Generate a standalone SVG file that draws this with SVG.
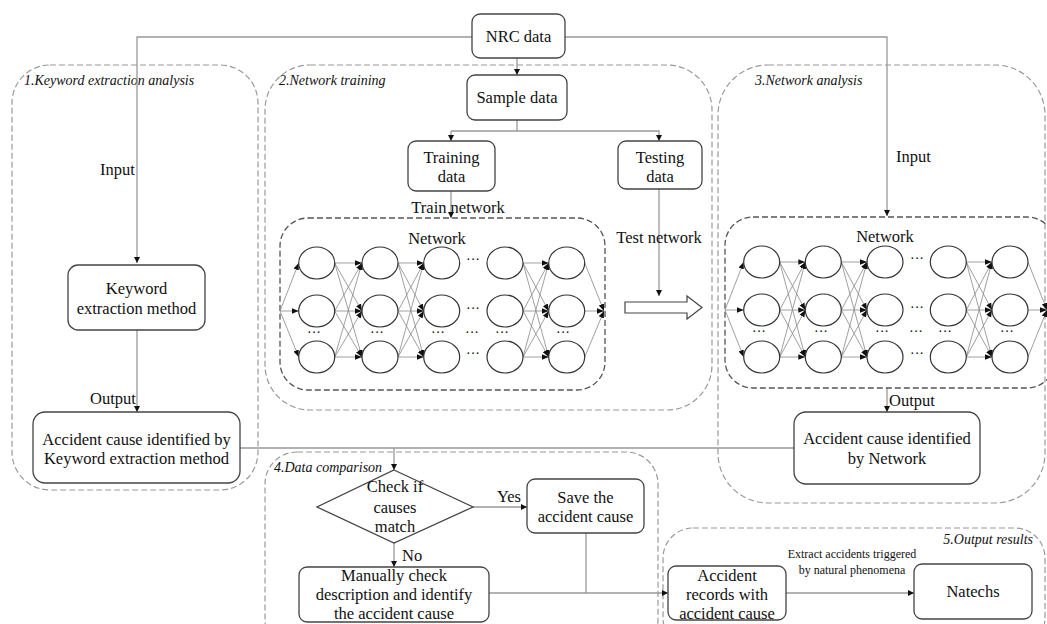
<svg xmlns="http://www.w3.org/2000/svg" width="1047" height="624" viewBox="0 0 1047 624" font-family="'Liberation Serif', 'DejaVu Serif', serif">
<style>
.panel{fill:none;stroke:#9a9a9a;stroke-width:1.2;stroke-dasharray:6 3}
.netbox{fill:none;stroke:#555;stroke-width:1.3;stroke-dasharray:6 3}
.box{fill:#fff;stroke:#444;stroke-width:1.3}
.conn{fill:none;stroke:#999;stroke-width:1.3}
.edge{fill:none;stroke:#888;stroke-width:0.8}
.neuron{fill:#fff;stroke:#333;stroke-width:1.2}
text{font-family:'Liberation Serif','DejaVu Serif',serif;fill:#111}
.t{font-size:16.5px;text-anchor:middle}
.lab{font-size:16.5px}
.plab{font-size:14px;font-style:italic}
.dots{font-size:14px;text-anchor:middle}
.small{font-size:12px;text-anchor:middle}
</style>
<defs>
<marker id="ar" viewBox="0 0 10 10" refX="10" refY="5" markerWidth="6" markerHeight="6" markerUnits="userSpaceOnUse" orient="auto"><path d="M0,0 L10,5 L0,10 z" fill="#111"/></marker>
<marker id="an" viewBox="0 0 10 10" refX="10" refY="5" markerWidth="7" markerHeight="7" markerUnits="userSpaceOnUse" orient="auto"><path d="M0,1 L10,5 L0,9 z" fill="#111"/></marker>
</defs>

<g id="panels">
<rect class="panel" x="12" y="65" width="246" height="425" rx="38"/>
<rect class="panel" x="265" y="65" width="447" height="345" rx="45"/>
<rect class="panel" x="718" y="65" width="327" height="438" rx="50"/>
<rect class="panel" x="265" y="452" width="393" height="200" rx="32"/>
<rect class="panel" x="663" y="528" width="382" height="120" rx="30"/>
<text class="plab" x="24" y="85">1.Keyword extraction analysis</text>
<text class="plab" x="279" y="85">2.Network training</text>
<text class="plab" x="755" y="85">3.Network analysis</text>
<text class="plab" x="274" y="472">4.Data comparison</text>
<text class="plab" x="1033" y="544" text-anchor="end">5.Output results</text>
</g>

<g id="connectors">
<polyline class="conn" points="472,37 137,37 137,263" marker-end="url(#ar)"/>
<polyline class="conn" points="565,37 887,37 887,216" marker-end="url(#ar)"/>
<line class="conn" x1="517" y1="58" x2="517" y2="75" marker-end="url(#ar)"/>
<line class="conn" x1="517" y1="120" x2="517" y2="131"/>
<polyline class="conn" points="451,131 451,141" marker-end="url(#ar)"/>
<polyline class="conn" points="451,131 659,131 659,141" marker-end="url(#ar)"/>
<line class="conn" x1="451" y1="191" x2="451" y2="218" marker-end="url(#ar)"/>
<line class="conn" x1="659" y1="189" x2="659" y2="296" marker-end="url(#ar)"/>
<line class="conn" x1="137" y1="330" x2="137" y2="412" marker-end="url(#ar)"/>
<line class="conn" x1="887" y1="388" x2="887" y2="412" marker-end="url(#ar)"/>
<line class="conn" x1="240" y1="448" x2="794" y2="448"/>
<line class="conn" x1="394" y1="448" x2="394" y2="470" marker-end="url(#ar)"/>
<line class="conn" x1="473" y1="507" x2="527" y2="507" marker-end="url(#ar)"/>
<line class="conn" x1="394" y1="543" x2="394" y2="567" marker-end="url(#ar)"/>
<polyline class="conn" points="586,533 586,593"/>
<line class="conn" x1="489" y1="593" x2="668" y2="593" marker-end="url(#ar)"/>
<line class="conn" x1="786" y1="593" x2="914" y2="593" marker-end="url(#ar)"/>
<polygon points="625,302 687,302 687,296 702,307.5 687,319 687,313 625,313" fill="#fff" stroke="#444" stroke-width="1.2"/>
<text class="lab" x="100" y="175">Input</text>
<text class="lab" x="896" y="162">Input</text>
<text class="lab" x="90" y="404">Output</text>
<text class="lab" x="889" y="406">Output</text>
<text class="t" x="458" y="213">Train network</text>
<text class="t" x="659" y="243">Test network</text>
<text class="lab" x="497" y="502">Yes</text>
<text class="lab" x="402" y="561">No</text>
<text class="small" x="852" y="558">Extract accidents triggered</text>
<text class="small" x="852" y="574">by natural phenomena</text>
</g>

<g id="nrc"><rect class="box" x="472" y="14" width="93" height="44" rx="8"/><text class="t" x="518.5" y="42">NRC data</text></g>
<g id="sample"><rect class="box" x="467" y="75" width="100" height="45" rx="8"/><text class="t" x="517" y="103">Sample data</text></g>
<g id="training"><rect class="box" x="408" y="141" width="87" height="50" rx="8"/><text class="t" x="451.5" y="163">Training</text><text class="t" x="451.5" y="182">data</text></g>
<g id="testing"><rect class="box" x="618" y="141" width="84" height="48" rx="8"/><text class="t" x="660" y="163">Testing</text><text class="t" x="660" y="182">data</text></g>
<g id="kwmethod"><rect class="box" x="68" y="265" width="137" height="65" rx="10"/><text class="t" x="136.5" y="294">Keyword</text><text class="t" x="136.5" y="314">extraction method</text></g>
<g id="kwcause"><rect class="box" x="33" y="412" width="207" height="71" rx="12"/><text class="t" x="136.5" y="445">Accident cause identified by</text><text class="t" x="136.5" y="464">Keyword extraction method</text></g>
<g id="netcause"><rect class="box" x="794" y="412" width="186" height="72" rx="12"/><text class="t" x="887" y="444">Accident cause identified</text><text class="t" x="887" y="464">by Network</text></g>
<g id="check"><polygon class="box" points="394,470 473,507 394,543 317,507"/><text class="t" x="395" y="492">Check if</text><text class="t" x="395" y="513">causes</text><text class="t" x="395" y="532">match</text></g>
<g id="save"><rect class="box" x="527" y="479" width="117" height="54" rx="8"/><text class="t" x="585.5" y="503">Save the</text><text class="t" x="585.5" y="522">accident cause</text></g>
<g id="manual"><rect class="box" x="299" y="567" width="190" height="55" rx="8"/><text class="t" x="394" y="581">Manually check</text><text class="t" x="394" y="600">description and identify</text><text class="t" x="394" y="619">the accident cause</text></g>
<g id="records"><rect class="box" x="668" y="566" width="118" height="54" rx="8"/><text class="t" x="727" y="581">Accident</text><text class="t" x="727" y="600">records with</text><text class="t" x="727" y="619">accident cause</text></g>
<g id="natechs"><rect class="box" x="914" y="564" width="118" height="55" rx="8"/><text class="t" x="973" y="597">Natechs</text></g>

<g id="network1">
<rect class="netbox" x="280" y="218" width="325" height="172" rx="28"/>
<text class="t" x="437" y="244">Network</text>
<g class="edges">
<path class="edge" marker-end="url(#an)" d="M280,311 L298.7,263"/><path class="edge" marker-end="url(#an)" d="M280,311 L298.7,311"/><path class="edge" marker-end="url(#an)" d="M280,311 L298.7,357"/>
<path class="edge" marker-end="url(#an)" d="M334.7,263 L362,263"/><path class="edge" marker-end="url(#an)" d="M334.7,263 L362,311"/><path class="edge" marker-end="url(#an)" d="M334.7,263 L362,357"/>
<path class="edge" marker-end="url(#an)" d="M334.7,311 L362,263"/><path class="edge" marker-end="url(#an)" d="M334.7,311 L362,311"/><path class="edge" marker-end="url(#an)" d="M334.7,311 L362,357"/>
<path class="edge" marker-end="url(#an)" d="M334.7,357 L362,263"/><path class="edge" marker-end="url(#an)" d="M334.7,357 L362,311"/><path class="edge" marker-end="url(#an)" d="M334.7,357 L362,357"/>
<path class="edge" marker-end="url(#an)" d="M398,263 L423.7,263"/><path class="edge" marker-end="url(#an)" d="M398,263 L423.7,311"/><path class="edge" marker-end="url(#an)" d="M398,263 L423.7,357"/>
<path class="edge" marker-end="url(#an)" d="M398,311 L423.7,263"/><path class="edge" marker-end="url(#an)" d="M398,311 L423.7,311"/><path class="edge" marker-end="url(#an)" d="M398,311 L423.7,357"/>
<path class="edge" marker-end="url(#an)" d="M398,357 L423.7,263"/><path class="edge" marker-end="url(#an)" d="M398,357 L423.7,311"/><path class="edge" marker-end="url(#an)" d="M398,357 L423.7,357"/>
<path class="edge" marker-end="url(#an)" d="M523,263 L548.7,263"/><path class="edge" marker-end="url(#an)" d="M523,263 L548.7,311"/><path class="edge" marker-end="url(#an)" d="M523,263 L548.7,357"/>
<path class="edge" marker-end="url(#an)" d="M523,311 L548.7,263"/><path class="edge" marker-end="url(#an)" d="M523,311 L548.7,311"/><path class="edge" marker-end="url(#an)" d="M523,311 L548.7,357"/>
<path class="edge" marker-end="url(#an)" d="M523,357 L548.7,263"/><path class="edge" marker-end="url(#an)" d="M523,357 L548.7,311"/><path class="edge" marker-end="url(#an)" d="M523,357 L548.7,357"/>
<path class="edge" marker-end="url(#an)" d="M584.7,263 L604,311"/><path class="edge" marker-end="url(#an)" d="M584.7,311 L604,311"/><path class="edge" marker-end="url(#an)" d="M584.7,357 L604,311"/>
</g>
<g>
<ellipse class="neuron" cx="316.7" cy="263" rx="18" ry="16"/><ellipse class="neuron" cx="316.7" cy="311" rx="18" ry="16"/><ellipse class="neuron" cx="316.7" cy="357" rx="18" ry="16"/>
<ellipse class="neuron" cx="380" cy="263" rx="18" ry="16"/><ellipse class="neuron" cx="380" cy="311" rx="18" ry="16"/><ellipse class="neuron" cx="380" cy="357" rx="18" ry="16"/>
<ellipse class="neuron" cx="441.7" cy="263" rx="18" ry="16"/><ellipse class="neuron" cx="441.7" cy="311" rx="18" ry="16"/><ellipse class="neuron" cx="441.7" cy="357" rx="18" ry="16"/>
<ellipse class="neuron" cx="505" cy="263" rx="18" ry="16"/><ellipse class="neuron" cx="505" cy="311" rx="18" ry="16"/><ellipse class="neuron" cx="505" cy="357" rx="18" ry="16"/>
<ellipse class="neuron" cx="566.7" cy="263" rx="18" ry="16"/><ellipse class="neuron" cx="566.7" cy="311" rx="18" ry="16"/><ellipse class="neuron" cx="566.7" cy="357" rx="18" ry="16"/>
</g>
<text class="dots" x="473" y="264">···</text><text class="dots" x="473" y="313">···</text><text class="dots" x="473" y="358">···</text>
<text class="dots" x="314" y="337">···</text><text class="dots" x="377" y="337">···</text><text class="dots" x="438" y="337">···</text><text class="dots" x="472" y="337">···</text><text class="dots" x="502" y="337">···</text><text class="dots" x="563" y="337">···</text>
</g>

<g id="network2">
<rect class="netbox" x="725" y="217" width="330" height="171" rx="28"/>
<text class="t" x="885" y="242">Network</text>
<g class="edges">
<path class="edge" marker-end="url(#an)" d="M725,310 L743.7,262"/><path class="edge" marker-end="url(#an)" d="M725,310 L743.7,310"/><path class="edge" marker-end="url(#an)" d="M725,310 L743.7,357"/>
<path class="edge" marker-end="url(#an)" d="M779.7,262 L805.3,262"/><path class="edge" marker-end="url(#an)" d="M779.7,262 L805.3,310"/><path class="edge" marker-end="url(#an)" d="M779.7,262 L805.3,357"/>
<path class="edge" marker-end="url(#an)" d="M779.7,310 L805.3,262"/><path class="edge" marker-end="url(#an)" d="M779.7,310 L805.3,310"/><path class="edge" marker-end="url(#an)" d="M779.7,310 L805.3,357"/>
<path class="edge" marker-end="url(#an)" d="M779.7,357 L805.3,262"/><path class="edge" marker-end="url(#an)" d="M779.7,357 L805.3,310"/><path class="edge" marker-end="url(#an)" d="M779.7,357 L805.3,357"/>
<path class="edge" marker-end="url(#an)" d="M841.3,262 L867,262"/><path class="edge" marker-end="url(#an)" d="M841.3,262 L867,310"/><path class="edge" marker-end="url(#an)" d="M841.3,262 L867,357"/>
<path class="edge" marker-end="url(#an)" d="M841.3,310 L867,262"/><path class="edge" marker-end="url(#an)" d="M841.3,310 L867,310"/><path class="edge" marker-end="url(#an)" d="M841.3,310 L867,357"/>
<path class="edge" marker-end="url(#an)" d="M841.3,357 L867,262"/><path class="edge" marker-end="url(#an)" d="M841.3,357 L867,310"/><path class="edge" marker-end="url(#an)" d="M841.3,357 L867,357"/>
<path class="edge" marker-end="url(#an)" d="M966.3,262 L992,262"/><path class="edge" marker-end="url(#an)" d="M966.3,262 L992,310"/><path class="edge" marker-end="url(#an)" d="M966.3,262 L992,357"/>
<path class="edge" marker-end="url(#an)" d="M966.3,310 L992,262"/><path class="edge" marker-end="url(#an)" d="M966.3,310 L992,310"/><path class="edge" marker-end="url(#an)" d="M966.3,310 L992,357"/>
<path class="edge" marker-end="url(#an)" d="M966.3,357 L992,262"/><path class="edge" marker-end="url(#an)" d="M966.3,357 L992,310"/><path class="edge" marker-end="url(#an)" d="M966.3,357 L992,357"/>
<path class="edge" marker-end="url(#an)" d="M1028,262 L1047,310"/><path class="edge" marker-end="url(#an)" d="M1028,310 L1047,310"/><path class="edge" marker-end="url(#an)" d="M1028,357 L1047,310"/>
</g>
<g>
<ellipse class="neuron" cx="761.7" cy="262" rx="18" ry="16"/><ellipse class="neuron" cx="761.7" cy="310" rx="18" ry="16"/><ellipse class="neuron" cx="761.7" cy="357" rx="18" ry="16"/>
<ellipse class="neuron" cx="823.3" cy="262" rx="18" ry="16"/><ellipse class="neuron" cx="823.3" cy="310" rx="18" ry="16"/><ellipse class="neuron" cx="823.3" cy="357" rx="18" ry="16"/>
<ellipse class="neuron" cx="885" cy="262" rx="18" ry="16"/><ellipse class="neuron" cx="885" cy="310" rx="18" ry="16"/><ellipse class="neuron" cx="885" cy="357" rx="18" ry="16"/>
<ellipse class="neuron" cx="948.3" cy="262" rx="18" ry="16"/><ellipse class="neuron" cx="948.3" cy="310" rx="18" ry="16"/><ellipse class="neuron" cx="948.3" cy="357" rx="18" ry="16"/>
<ellipse class="neuron" cx="1010" cy="262" rx="18" ry="16"/><ellipse class="neuron" cx="1010" cy="310" rx="18" ry="16"/><ellipse class="neuron" cx="1010" cy="357" rx="18" ry="16"/>
</g>
<text class="dots" x="917" y="263">···</text><text class="dots" x="917" y="312">···</text><text class="dots" x="917" y="358">···</text>
<text class="dots" x="759" y="336">···</text><text class="dots" x="821" y="336">···</text><text class="dots" x="882" y="336">···</text><text class="dots" x="916" y="336">···</text><text class="dots" x="945" y="336">···</text><text class="dots" x="1007" y="336">···</text>
</g>
</svg>
